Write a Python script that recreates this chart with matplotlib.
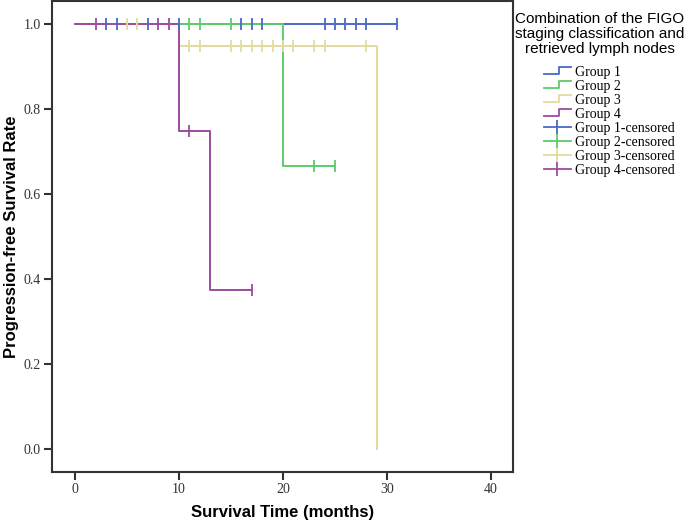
import matplotlib.pyplot as plt
from matplotlib.lines import Line2D
from matplotlib.legend_handler import HandlerBase

# Kaplan-Meier step data per group (times where survival changes)
g1_times = [0, 31]
g1_surv = [1.0, 1.0]
g1_cens = [3, 4, 7, 10, 16, 17, 18, 24, 25, 26, 27, 28, 31]

g2_times = [0, 20, 25]
g2_surv = [1.0, 0.667, 0.667]
g2_cens = [11, 12, 15, 23, 25]

g3_times = [0, 10, 29]
g3_surv = [1.0, 0.95, 0.0]
g3_cens = [5, 6, 11, 12, 15, 16, 17, 18, 19, 20, 21, 23, 24, 28]

g4_times = [0, 10, 13, 17]
g4_surv = [1.0, 0.75, 0.375, 0.375]
g4_cens = [2, 8, 9, 11, 17]

names = ["Group 1", "Group 2", "Group 3", "Group 4"]
colors = ["#4a68c8", "#5ccc6a", "#e4dc9c", "#9c4c9e"]


def surv_at(times, surv, t):
    s = surv[0]
    for ti, si in zip(times, surv):
        if ti <= t:
            s = si
    return s


class StepHandler(HandlerBase):
    def create_artists(self, legend, orig, xd, yd, w, h, fontsize, trans):
        xs = [xd, xd + w * 0.55, xd + w * 0.55, xd + w]
        ys = [yd + h * 0.2, yd + h * 0.2, yd + h * 0.9, yd + h * 0.9]
        ln = Line2D(xs, ys, color=orig.get_color(), lw=1.3, transform=trans)
        return [ln]


fig = plt.figure(figsize=(6.85, 5.22), dpi=100)
ax = fig.add_axes([52 / 685, 1 - 472 / 522, (513 - 52) / 685, 471 / 522])

groups = [(g1_times, g1_surv, g1_cens), (g2_times, g2_surv, g2_cens),
          (g3_times, g3_surv, g3_cens), (g4_times, g4_surv, g4_cens)]

step_handles = []
for (t, s, c), col, nm in zip(groups, colors, names):
    ln, = ax.step(t, s, where="post", color=col, lw=1.4, zorder=2)
    step_handles.append(ln)

cens_handles = []
for (t, s, c), col, nm in zip(groups, colors, names):
    ys = [surv_at(t, s, ci) for ci in c]
    ax.plot(c, ys, ls="none", marker="|", ms=8, mew=1.3, color=col, zorder=3)
    cens_handles.append(Line2D([0], [0], color=col, lw=1.3, marker="|",
                               ms=10, mew=1.3))

ax.set_xlim(-2.2, 42.1)
ax.set_ylim(-0.053, 1.055)
ax.set_xticks([0, 10, 20, 30, 40])
ax.set_yticks([0.0, 0.2, 0.4, 0.6, 0.8, 1.0])
ax.set_yticklabels(["0.0", "0.2", "0.4", "0.6", "0.8", "1.0"])
for lab in ax.get_xticklabels() + ax.get_yticklabels():
    lab.set_fontfamily("Liberation Serif")
    lab.set_fontsize(10)
    lab.set_color("#333333")
ax.tick_params(direction="out", length=6, width=1.5, color="#333333", pad=2)
for sp in ax.spines.values():
    sp.set_linewidth(1.5)
    sp.set_color("#333333")

ax.set_xlabel("Survival Time (months)", fontfamily="Liberation Sans",
              fontweight="bold", fontsize=12)
ax.set_ylabel("Progression-free Survival Rate", fontfamily="Liberation Sans",
              fontweight="bold", fontsize=12)
ax.xaxis.set_label_coords(0.5, -0.087)
ax.yaxis.set_label_coords(-0.087, 0.5)
ax.xaxis.label.set_va("center")
ax.yaxis.label.set_va("center")

fig.text(600 / 685, 1 - 34 / 522,
         "Combination of the FIGO\nstaging classification and\nretrieved lymph nodes",
         ha="center", va="center", fontfamily="Liberation Sans", fontsize=11,
         linespacing=1.05)

handles = step_handles + cens_handles
labels = names + [n + "-censored" for n in names]
hmap = {h: StepHandler() for h in step_handles}
leg = fig.legend(handles, labels, loc="upper left",
                 bbox_to_anchor=(538 / 685, 1 - 60 / 522), frameon=False,
                 prop={"family": "Liberation Serif", "size": 10},
                 handlelength=2.0, handletextpad=0.25, labelspacing=0.08,
                 handler_map=hmap, borderaxespad=0)

fig.savefig("out.png", dpi=100)
